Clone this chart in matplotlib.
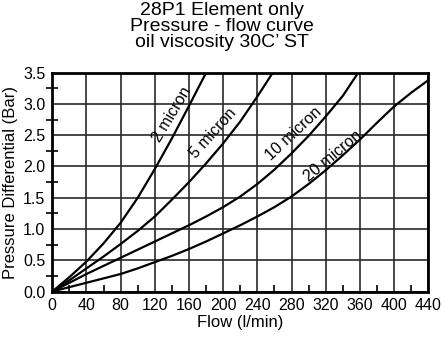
import matplotlib
matplotlib.use("Agg")
import matplotlib.pyplot as plt

plt.rcParams['font.family'] = ['Liberation Sans', 'DejaVu Sans']

# Pressure drop curves (flow in l/min, pressure differential in bar)
flow_2 = [0, 20, 40, 60, 80, 100, 120, 140, 160, 180]
dp_2 = [0, 0.23, 0.48, 0.77, 1.10, 1.50, 1.96, 2.45, 2.97, 3.5]

flow_5 = [0, 20, 40, 60, 80, 100, 120, 140, 160, 180, 200, 220, 240, 258]
dp_5 = [0, 0.18, 0.37, 0.56, 0.76, 0.97, 1.20, 1.47, 1.75, 2.05, 2.37, 2.72, 3.12, 3.5]

flow_10 = [0, 20, 40, 60, 80, 100, 120, 140, 160, 180, 200, 220, 240, 260, 280, 300, 320, 340, 358]
dp_10 = [0, 0.14, 0.28, 0.41, 0.54, 0.67, 0.80, 0.93, 1.06, 1.20, 1.35, 1.52, 1.72, 1.95, 2.21,
         2.49, 2.80, 3.13, 3.5]

flow_20 = [0, 20, 40, 60, 80, 100, 120, 140, 160, 180, 200, 220, 240, 260, 280, 300, 320, 340,
           360, 380, 400, 420, 440]
dp_20 = [0, 0.07, 0.14, 0.21, 0.28, 0.37, 0.47, 0.57, 0.68, 0.80, 0.93, 1.06, 1.20, 1.35, 1.52,
         1.72, 1.94, 2.18, 2.43, 2.70, 2.96, 3.18, 3.38]

series_labels = ["2 micron", "5 micron", "10 micron", "20 micron"]
x_ticks = [0, 40, 80, 120, 160, 200, 240, 280, 320, 360, 400, 440]
y_ticks = [0.0, 0.5, 1.0, 1.5, 2.0, 2.5, 3.0, 3.5]

fig = plt.figure(figsize=(4.44, 3.37), dpi=100)
ax = fig.add_axes([0.1178, 0.135, 0.8468, 0.6493])

curves = [(flow_2, dp_2), (flow_5, dp_5), (flow_10, dp_10), (flow_20, dp_20)]
for fx, fy in curves:
    ax.plot(fx, fy, color='black', lw=1.6, solid_joinstyle='round',
            solid_capstyle='round', zorder=3)

# Curve annotations placed along each line
label_pos = [(140.5, 2.83, 59), (188.0, 2.54, 48), (282.0, 2.53, 43), (328.5, 2.17, 40)]
for text, (lx, ly, rot) in zip(series_labels, label_pos):
    ax.text(lx, ly, text, rotation=rot, rotation_mode='anchor', ha='center', va='center',
            fontsize=11.5, color='black', zorder=4)

ax.set_xlim(0, 440)
ax.set_ylim(0, 3.5)
ax.set_xticks(x_ticks)
ax.set_xticklabels([str(v) for v in x_ticks])
ax.set_yticks(y_ticks)
ax.set_yticklabels([f"{v:.1f}" for v in y_ticks])
ax.set_xticks([v + 20 for v in x_ticks[:-1]], minor=True)
ax.set_yticks([v + 0.25 for v in y_ticks[:-1]], minor=True)

ax.tick_params(axis='both', which='major', length=0, labelsize=11.5, colors='black')
ax.tick_params(axis='x', which='major', pad=5)
ax.tick_params(axis='y', which='major', pad=5)
ax.tick_params(axis='x', which='minor', direction='in', length=5, width=1.2, bottom=True)
ax.tick_params(axis='y', which='minor', direction='inout', length=8, width=1.2, left=True)

ax.grid(True, which='major', color='#2a2a2a', lw=1.2, zorder=1)
for sp in ax.spines.values():
    sp.set_linewidth(2.0)
    sp.set_color('black')

ax.set_xlabel("Flow (l/min)", fontsize=12, labelpad=1)
ax.set_ylabel("Pressure Differential (Bar)", fontsize=12, labelpad=4)

fig.text(0.5, 0.995, "28P1 Element only\nPressure - flow curve\noil viscosity 30C\u2019 ST",
         ha='center', va='top', fontsize=14, linespacing=0.93)

fig.savefig("out.png", dpi=100)
